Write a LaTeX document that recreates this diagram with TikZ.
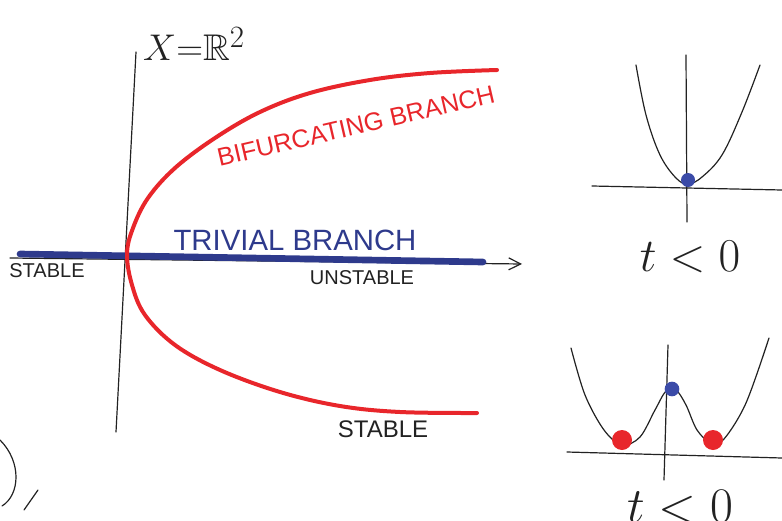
\documentclass[tikz,border=0pt]{standalone}
\usepackage{amsmath,amssymb}
\usepackage{graphicx}
\usepackage{fontspec}
\setsansfont{Liberation Sans}
\usepackage{tikz}
\usetikzlibrary{arrows.meta,positioning,calc}
\definecolor{pred}{HTML}{E8262B}
\definecolor{pblue}{HTML}{2E3A8C}
\definecolor{pdot}{HTML}{3B4BA8}
\definecolor{pink}{HTML}{222222}
\newcommand{\bigsign}[2]{\scalebox{#1}{#2}}

\begin{document}
\begin{tikzpicture}[x=0.75pt, y=-0.75pt, >={Straight Barb[length=9pt,width=9pt]},
  axis/.style={draw=pink, line width=0.9pt, line cap=round},
  redbranch/.style={draw=pred, line width=3pt, line cap=round},
  bluebranch/.style={draw=pblue, line width=5pt, line cap=round},
  tag/.style={font=\sffamily\fontsize{#1}{#1}\selectfont, text=pink, inner sep=0pt},
  tag/.default=14,
  bigmath/.style={font=\Huge, text=pink, inner sep=0pt},
  ball/.style={circle, inner sep=0pt, minimum size=#1}]
\useasboundingbox (0,0) rectangle (782,521);
% main bifurcation diagram
\draw[axis, ->] (10,258) -- (522,264);
\draw[axis] (136,52) -- (116,432);
\draw[bluebranch] (20,254) -- (483,262);
\draw[redbranch] plot[smooth, tension=0.6] coordinates {(497,70) (430,73) (370,80)
  (310,93) (260,112) (215,138) (175,168) (148,198) (133,228) (127,254) (132,285)
  (145,315) (175,345) (220,370) (280,392) (340,406) (400,412) (477,413)};
\node[bigmath] (space) at (194,44) {\bigsign{1.12}{$X{=}\mathbb{R}^2$}};
\node[tag=19, text=pred, rotate=13] (bif) at (356,126) {BIFURCATING BRANCH};
\node[tag=22, text=pblue] (triv) at (295,240) {TRIVIAL BRANCH};
\node[tag=15] (stabL) at (47,271) {STABLE};
\node[tag=15] (unstab) at (362,278) {UNSTABLE};
\node[tag=18] (stabR) at (383,429) {STABLE};
% leftover marks at the margin
\draw[axis] (0,440) .. controls (22,462) and (20,495) .. (2,506);
\draw[axis] (38,490) -- (24,510);
% single well
\draw[axis] (592,186) -- (782,190);
\draw[axis] (686,55) -- (687,222);
\draw[axis] plot[smooth, tension=0.6] coordinates {(636,65) (646,115) (660,155)
  (676,178) (688,184) (702,177) (722,155) (742,112) (760,65)};
\node[ball=10.5pt, fill=pdot] (well) at (688,180) {};
\node[bigmath] (tup) at (690,257) {\bigsign{1.42}{$t<0$}};
% double well
\draw[axis] (567,452) -- (782,458);
\draw[axis] (668,345) -- (664,480);
\draw[axis] plot[smooth, tension=0.55] coordinates {(571,348) (585,395) (604,430)
  (622,445) (640,437) (655,410) (666,391) (676,390) (686,405) (697,430) (711,443)
  (724,439) (746,403) (769,338)};
\node[ball=15pt, fill=pred] (wellL) at (622,440) {};
\node[ball=15pt, fill=pred] (wellR) at (713,440) {};
\node[ball=11pt, fill=pdot] (top) at (672,389) {};
\node[bigmath] (tdown) at (680,507) {\bigsign{1.5}{$t<0$}};
\end{tikzpicture}
\end{document}
